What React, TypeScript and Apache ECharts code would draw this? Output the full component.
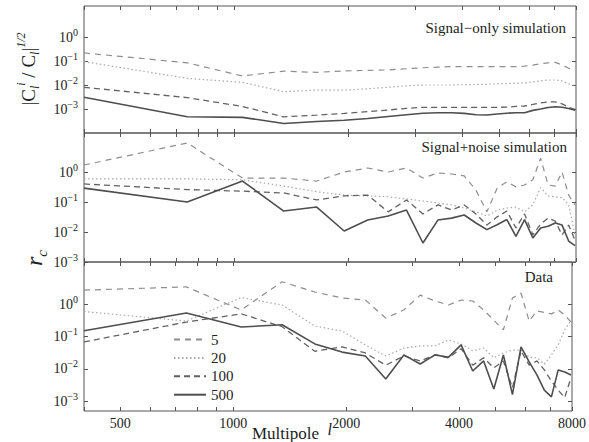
import React, { useEffect, useRef } from 'react';
import * as echarts from 'echarts';

// Multipole bin centres
const ells = [400, 750, 1050, 1350, 1650, 1950, 2250, 2550, 2850, 3150, 3450, 3750, 4050, 4350, 4650, 4950, 5250, 5550, 5850, 6150, 6450, 6750, 7050, 7350, 7650, 7950];

// Panel 1: signal-only simulation, |C_l^i / C_l|^{1/2}
const sig5 = [0.22, 0.085, 0.024, 0.038, 0.034, 0.039, 0.041, 0.043, 0.048, 0.053, 0.056, 0.059, 0.059, 0.059, 0.059, 0.059, 0.059, 0.059, 0.062, 0.068, 0.078, 0.085, 0.089, 0.07, 0.05, 0.045];
const sig20 = [0.095, 0.019, 0.013, 0.0053, 0.0062, 0.0062, 0.007, 0.0081, 0.0093, 0.0101, 0.0101, 0.0101, 0.0104, 0.0106, 0.0108, 0.0112, 0.0116, 0.0119, 0.0123, 0.0136, 0.0149, 0.0163, 0.0163, 0.0149, 0.0112, 0.0093];
const sig100 = [0.0081, 0.003, 0.00128, 0.00047, 0.00056, 0.00066, 0.00078, 0.00091, 0.00107, 0.00118, 0.00118, 0.00118, 0.00118, 0.00118, 0.00118, 0.00118, 0.0012, 0.00128, 0.00134, 0.00155, 0.0018, 0.00198, 0.00198, 0.00163, 0.0012, 0.00096];
const sig500 = [0.0031, 0.00048, 0.00045, 0.00025, 0.0003, 0.00034, 0.0004, 0.00049, 0.00058, 0.00067, 0.0007, 0.0007, 0.00066, 0.00058, 0.00056, 0.00062, 0.00067, 0.0007, 0.0007, 0.00088, 0.001, 0.00116, 0.00125, 0.00118, 0.00105, 0.0009];

// Panel 2: signal+noise simulation, r_c
const sn5 = [1.71, 9.3, 0.63, 0.63, 0.5, 1.0, 1.36, 1.0, 1.36, 0.63, 0.93, 0.86, 0.74, 0.25, 0.047, 0.29, 0.47, 0.32, 0.37, 0.55, 2.9, 0.37, 0.34, 1.0, 0.17, 0.08];
const sn20 = [0.59, 0.59, 0.55, 0.34, 0.22, 0.17, 0.16, 0.15, 0.126, 0.108, 0.093, 0.08, 0.063, 0.047, 0.034, 0.054, 0.063, 0.068, 0.047, 0.08, 0.3, 0.16, 0.15, 0.14, 0.08, 0.008];
const sn100 = [0.4, 0.26, 0.23, 0.2, 0.117, 0.16, 0.17, 0.047, 0.117, 0.04, 0.08, 0.054, 0.08, 0.04, 0.017, 0.032, 0.05, 0.0136, 0.04, 0.008, 0.0185, 0.029, 0.023, 0.008, 0.017, 0.0054];
const sn500 = [0.29, 0.1, 0.5, 0.05, 0.068, 0.0108, 0.025, 0.034, 0.054, 0.0043, 0.025, 0.029, 0.037, 0.02, 0.012, 0.0175, 0.026, 0.0072, 0.026, 0.0063, 0.0136, 0.0155, 0.02, 0.017, 0.005, 0.0035];

// Panel 3: data, r_c
const dat5 = [2.7, 3.4, 0.66, 4.9, 2.37, 1.55, 1.34, 0.37, 0.66, 1.9, 1.25, 0.94, 1.34, 1.25, 0.66, 0.32, 0.16, 1.55, 2.2, 0.3, 0.62, 0.55, 0.5, 0.66, 0.46, 0.28];
const dat20 = [0.59, 0.3, 1.6, 0.94, 0.21, 0.148, 0.055, 0.025, 0.044, 0.051, 0.051, 0.078, 0.059, 0.036, 0.044, 0.022, 0.031, 0.038, 0.038, 0.023, 0.022, 0.014, 0.027, 0.055, 0.16, 0.32];
const dat100 = [0.068, 0.28, 0.5, 0.2, 0.035, 0.048, 0.031, 0.013, 0.025, 0.0176, 0.027, 0.022, 0.042, 0.013, 0.022, 0.0107, 0.0176, 0.0026, 0.036, 0.013, 0.0176, 0.0093, 0.0042, 0.0022, 0.0013, 0.0053];
const dat500 = [0.151, 0.53, 0.197, 0.23, 0.059, 0.033, 0.025, 0.0049, 0.027, 0.0142, 0.027, 0.023, 0.055, 0.0086, 0.0176, 0.0024, 0.027, 0.0016, 0.048, 0.0164, 0.0065, 0.0022, 0.00136, 0.0093, 0.008, 0.0065];

const seriesNames = ['5', '20', '100', '500'];
const xTickValues = [400, 500, 600, 700, 800, 900, 1000, 2000, 3000, 4000, 5000, 6000, 7000, 8000];
const xLabelValues = [500, 1000, 2000, 4000, 8000];
const yTickValues = [0.001, 0.01, 0.1, 1];
const panelTitles = ['Signal\u2212only simulation', 'Signal+noise simulation', 'Data'];
const yMins = [1e-4, 1e-3, 5e-4];
const yMax = 20;
const xMin = 400;
const xMax = 8000;

const SERIF = '"Liberation Serif", "Times New Roman", serif';
const AXIS_COLOR = '#555';

const panelLayout = [
  { top: 6, height: 127 },
  { top: 133, height: 129 },
  { top: 262, height: 149 },
];
const GRID_LEFT = 84;
const GRID_WIDTH = 492;

const lineStyles = [
  { color: '#8e8e8e', width: 1.2, type: [6, 5] },
  { color: '#a9a9a9', width: 1.2, type: [1.5, 2.5] },
  { color: '#626262', width: 1.3, type: [6, 4] },
  { color: '#4e4e4e', width: 1.6, type: 'solid' },
];

const titlePos = [
  { x: 566, y: 28 },
  { x: 567, y: 147 },
  { x: 553, y: 277 },
];

function expLabel(v: number): string {
  const e = Math.round(Math.log10(v));
  return '10{s|' + (e < 0 ? '\u2212' + -e : String(e)) + '}';
}

export default function App() {
  const ref = useRef<HTMLDivElement>(null);
  useEffect(() => {
    if (!ref.current) return;
    const chart = echarts.init(ref.current, undefined, { renderer: 'svg' });
    const panelData = [
      [sig5, sig20, sig100, sig500],
      [sn5, sn20, sn100, sn500],
      [dat5, dat20, dat100, dat500],
    ];
    const grids = panelLayout.map((p) => ({
      left: GRID_LEFT,
      top: p.top,
      width: GRID_WIDTH,
      height: p.height,
      show: true,
      borderColor: AXIS_COLOR,
      borderWidth: 1,
      backgroundColor: 'transparent',
    }));
    const xAxes: any[] = [];
    const yAxes: any[] = [];
    panelLayout.forEach((_, p) => {
      ['bottom', 'top'].forEach((pos) => {
        const showLabels = p === 2 && pos === 'bottom';
        xAxes.push({
          type: 'log',
          logBase: 10,
          gridIndex: p,
          position: pos,
          min: xMin,
          max: xMax,
          axisLine: { show: false },
          splitLine: { show: false },
          minorTick: { show: false },
          axisTick: {
            show: true,
            inside: true,
            length: 4,
            lineStyle: { color: AXIS_COLOR },
            customValues: xTickValues,
          },
          axisLabel: showLabels
            ? {
                show: true,
                customValues: xLabelValues,
                margin: 5,
                fontFamily: SERIF,
                fontSize: 14,
                color: '#222',
                formatter: (v: number) => String(Math.round(v)),
              }
            : { show: false },
        });
      });
      ['left', 'right'].forEach((pos) => {
        const showLabels = pos === 'left';
        yAxes.push({
          type: 'log',
          logBase: 10,
          gridIndex: p,
          position: pos,
          min: yMins[p],
          max: yMax,
          axisLine: { show: false },
          splitLine: { show: false },
          minorTick: { show: false },
          axisTick: {
            show: true,
            inside: true,
            length: 4,
            lineStyle: { color: AXIS_COLOR },
            customValues: yTickValues,
          },
          axisLabel: showLabels
            ? {
                show: true,
                customValues: yTickValues,
                margin: 6,
                fontFamily: SERIF,
                fontSize: 14,
                lineHeight: 20,
                color: '#222',
                formatter: expLabel,
                rich: {
                  s: { fontSize: 10, fontFamily: SERIF, color: '#222', verticalAlign: 'top', lineHeight: 12 },
                },
              }
            : { show: false },
        });
      });
    });

    const series: any[] = [];
    panelData.forEach((arrs, p) => {
      arrs.forEach((vals, k) => {
        series.push({
          type: 'line',
          name: seriesNames[k],
          xAxisIndex: p * 2,
          yAxisIndex: p * 2,
          data: ells.map((l, i) => [l, vals[i]]),
          symbol: 'none',
          showSymbol: false,
          clip: true,
          z: 2 + k,
          color: lineStyles[k].color,
          itemStyle: { color: lineStyles[k].color },
          lineStyle: lineStyles[k],
          emphasis: { disabled: true },
        });
      });
    });

    const graphic: any[] = panelTitles.map((t, i) => ({
      type: 'text',
      x: titlePos[i].x,
      y: titlePos[i].y,
      style: {
        text: t,
        fill: '#222',
        font: '15px ' + SERIF,
        align: 'right',
        verticalAlign: 'middle',
        textAlign: 'right',
        textVerticalAlign: 'middle',
      },
    }));
    graphic.push({
      type: 'text',
      x: 28,
      y: 69,
      rotation: Math.PI / 2,
      style: {
        text: '|C{sb|l}{sp|i} / C{sb|l}|{sp|1/2}',
        fill: '#222',
        font: '19px ' + SERIF,
        align: 'center',
        verticalAlign: 'middle',
        textAlign: 'center',
        textVerticalAlign: 'middle',
        lineHeight: 26,
        rich: {
          sb: { fontSize: 12, fontStyle: 'italic', fontFamily: SERIF, verticalAlign: 'bottom', lineHeight: 26, fill: '#222' },
          sp: { fontSize: 12, fontStyle: 'italic', fontFamily: SERIF, verticalAlign: 'top', lineHeight: 26, fill: '#222' },
        },
      },
    });
    graphic.push({
      type: 'text',
      x: 34,
      y: 258,
      rotation: Math.PI / 2,
      style: {
        text: '{r|r}{c|c}',
        fill: '#222',
        align: 'center',
        verticalAlign: 'middle',
        textAlign: 'center',
        textVerticalAlign: 'middle',
        rich: {
          r: { fontSize: 24, fontStyle: 'italic', fontFamily: SERIF, lineHeight: 30, verticalAlign: 'middle', fill: '#222' },
          c: { fontSize: 15, fontStyle: 'italic', fontFamily: SERIF, lineHeight: 30, verticalAlign: 'bottom', fill: '#222' },
        },
      },
    });
    graphic.push({
      type: 'text',
      x: 252,
      y: 433,
      style: {
        text: 'Multipole  {l|l}',
        fill: '#222',
        font: '17px ' + SERIF,
        align: 'left',
        verticalAlign: 'middle',
        textAlign: 'left',
        textVerticalAlign: 'middle',
        lineHeight: 24,
        rich: {
          l: { fontSize: 16, fontStyle: 'italic', fontFamily: SERIF, verticalAlign: 'top', lineHeight: 24, fill: '#222' },
        },
      },
    });

    chart.setOption({
      animation: false,
      backgroundColor: '#fff',
      grid: grids,
      xAxis: xAxes,
      yAxis: yAxes,
      legend: {
        data: seriesNames,
        orient: 'vertical',
        left: 168,
        top: 327,
        itemWidth: 32,
        itemHeight: 14,
        itemGap: 3.4,
        selectedMode: false,
        itemStyle: { opacity: 0 },
        textStyle: { fontFamily: SERIF, fontSize: 15, color: '#222' },
      },
      graphic,
      series,
    });
    return () => chart.dispose();
  }, []);
  return <div ref={ref} style={{ position: 'fixed', left: 0, top: 0, width: 589, height: 442 }} />;
}
